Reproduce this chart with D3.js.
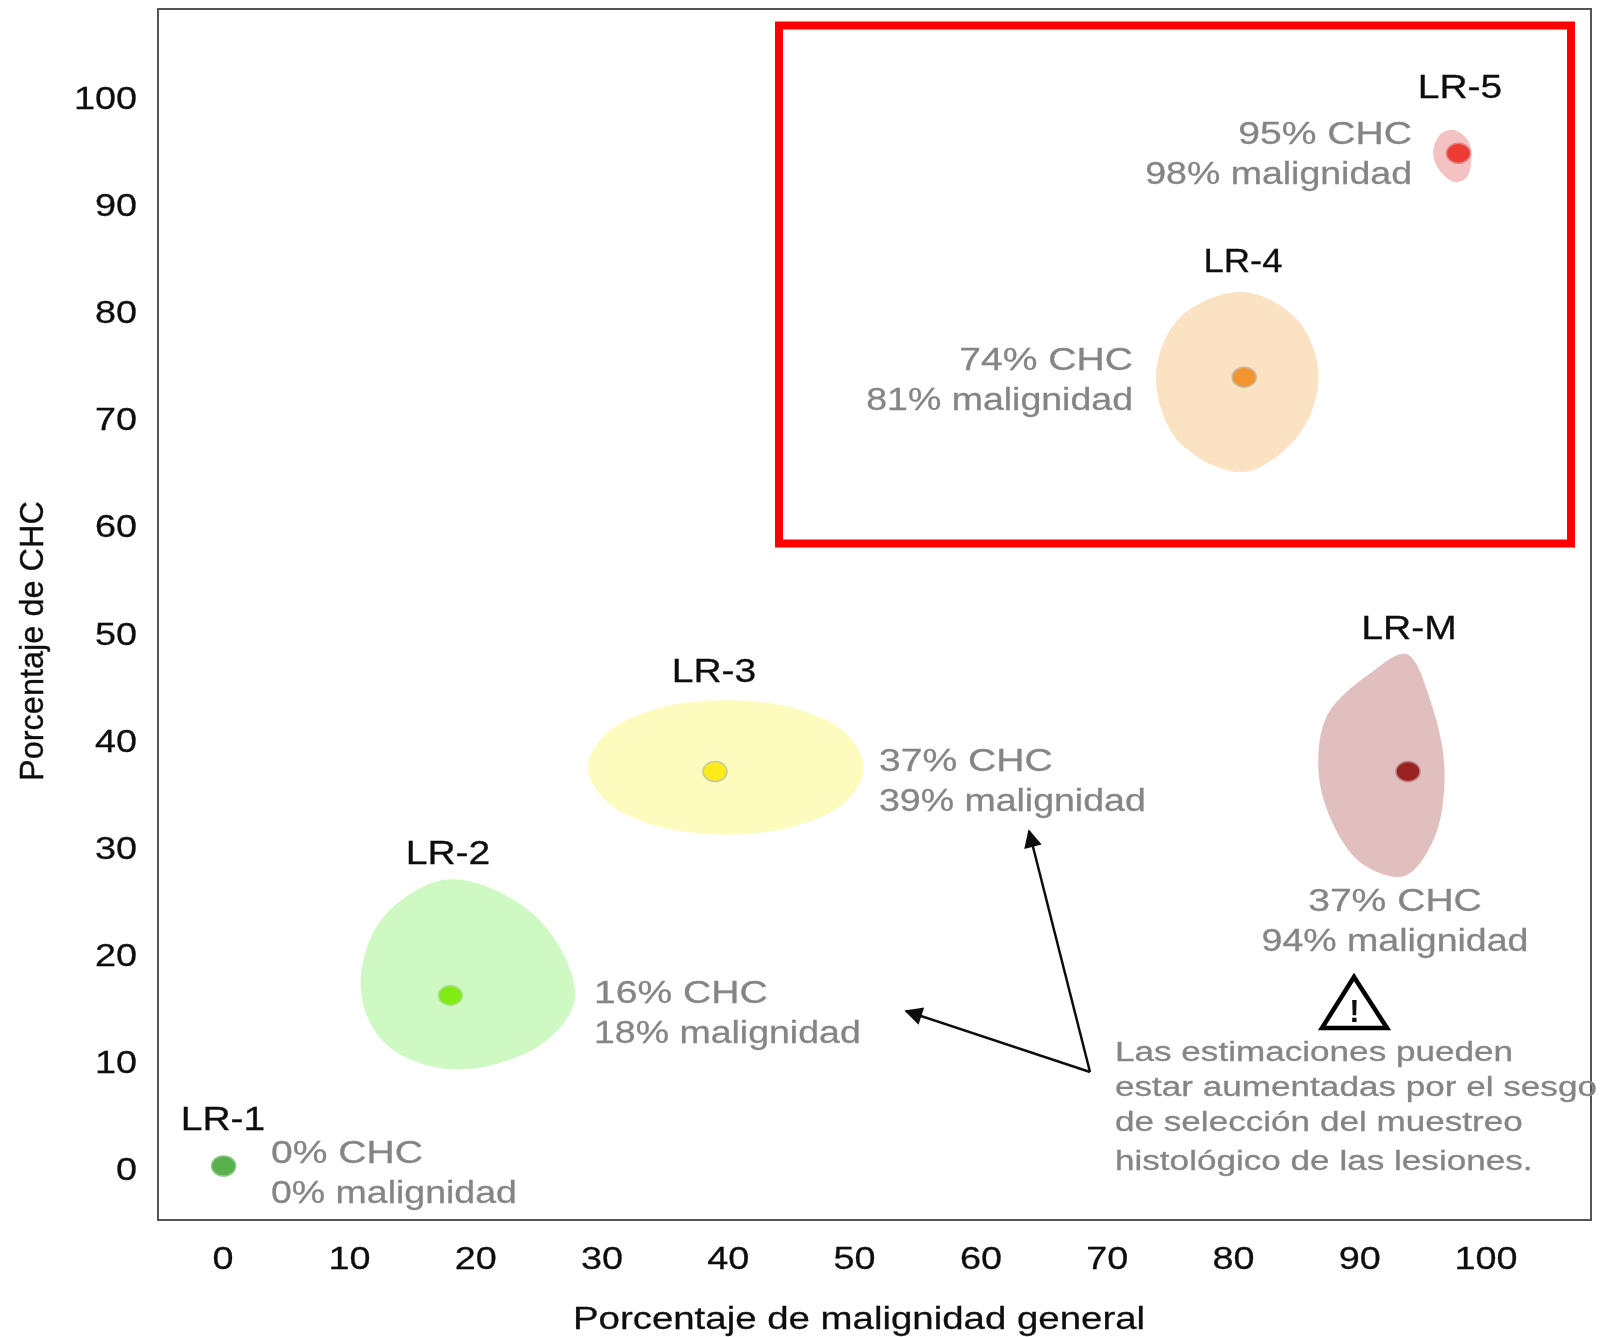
<!DOCTYPE html>
<html>
<head>
<meta charset="utf-8">
<script src="https://cdnjs.cloudflare.com/ajax/libs/d3/7.8.5/d3.min.js"></script>
<style>
  html, body {margin: 0; background: #fff;}
  text {font-family: "Liberation Sans", Arial, sans-serif;}
</style>
</head>
<body>
<div id="chart"></div>
<script>
// values
const lesions = ["LR-1", "LR-2", "LR-3", "LR-4", "LR-5", "LR-M"];
const chc = [0, 16, 37, 74, 95, 37];
const malignancy = [0, 18, 39, 81, 98, 94];
const xTicks = [0, 10, 20, 30, 40, 50, 60, 70, 80, 90, 100];
const yTicks = [0, 10, 20, 30, 40, 50, 60, 70, 80, 90, 100];
const noteLines = [
  "Las estimaciones pueden",
  "estar aumentadas por el sesgo",
  "de selección del muestreo",
  "histológico de las lesiones."
];
// confidence regions, [malignidad, CHC]
const regionLR2 = [[17.9,26.9],[24.8,23.4],[27.9,15.9],[25.2,11.4],[18.3,9.05],[12.9,11.4],[10.9,16.4],[12.5,23.1]];
const regionLR3 = [[39.9,43.7],[45.4,42.9],[49.4,40.6],[50.8,37.4],[49.4,34.2],[45.4,31.9],[39.9,31.1],[34.4,31.9],[30.4,34.2],[28.9,37.4],[30.4,40.6],[34.4,42.9]];
const regionLR4 = [[80.9,82],[85.2,79.4],[86.9,74.2],[85.4,68.7],[80.9,65.1],[75.7,68.1],[74,74.2],[75.9,79.6]];
const regionLR5 = [[97.6,97.2],[98.9,95.9],[98.7,92.8],[97.7,92.3],[96.5,93.4],[96,95],[96.5,96.7]];
const regionLRM = [[93.9,48],[95.9,43.2],[96.9,37],[96.1,30.8],[93.7,27.2],[90.3,28.4],[88,32.2],[86.9,37],[87.6,42.3],[91.2,46.4]];

const W = 1601, H = 1337;
const frame = {left: 158, right: 1591, top: 9, bottom: 1220};

const x = d3.scaleLinear().domain([0, 100]).range([223.6, 1483.6]);
const y = d3.scaleLinear().domain([0, 100]).range([1166, 100]);
// tick labels sit a little off the marks in the original
const xLabel = d3.scaleLinear().domain([0, 100]).range([222.6, 1485.6]);
const yLabel = d3.scaleLinear().domain([0, 100]).range([1169.5, 98.5]);

const svg = d3.select("#chart").append("svg")
  .attr("width", W)
  .attr("height", H)
  .style("display", "block");

// the reference is a slightly soft raster
svg.append("filter").attr("id", "soft")
  .append("feGaussianBlur").attr("stdDeviation", 0.6);

const root = svg.append("g").attr("filter", "url(#soft)");

// text in the picture is wider than the font
function stretch(sel, f) {
  sel.each(function(d, i) {
    const len = this.getComputedTextLength();
    const k = typeof f == "function" ? f(d, i) : f;
    d3.select(this).attr("textLength", len * k).attr("lengthAdjust", "spacingAndGlyphs");
  });
  return sel;
}

// regions
const outline = d3.line()
  .x(function(d) {return x(d[0]);})
  .y(function(d) {return y(d[1]);})
  .curve(d3.curveCatmullRomClosed.alpha(0.5));

const regions = [
  {pts: regionLR2, fill: "#cff9c3"},
  {pts: regionLR3, fill: "#fdfbbe"},
  {pts: regionLR4, fill: "#fae2c3"},
  {pts: regionLR5, fill: "#f4c2c2"},
  {pts: regionLRM, fill: "#e2bfbf"}
];
root.selectAll(".region").data(regions)
  .enter().append("path")
  .attr("class", "region")
  .attr("d", function(d) {return outline(d.pts);})
  .attr("fill", function(d) {return d.fill;});

// frame
root.append("rect")
  .attr("x", frame.left)
  .attr("y", frame.top)
  .attr("width", frame.right - frame.left)
  .attr("height", frame.bottom - frame.top)
  .attr("fill", "none")
  .attr("stroke", "#555")
  .attr("stroke-width", 2);

// red highlight box around LR-4 and LR-5
root.append("rect")
  .attr("x", 779)
  .attr("y", 25.5)
  .attr("width", 792)
  .attr("height", 518)
  .attr("fill", "none")
  .attr("stroke", "#fe0000")
  .attr("stroke-width", 8);

// axes
const xAxis = d3.axisBottom(xLabel).tickValues(xTicks).tickSize(0).tickPadding(27);
const yAxis = d3.axisLeft(yLabel).tickValues(yTicks).tickSize(0).tickPadding(21);

const gx = root.append("g")
  .attr("transform", "translate(0," + frame.bottom + ")")
  .call(xAxis);
const gy = root.append("g")
  .attr("transform", "translate(" + frame.left + ",0)")
  .call(yAxis);
gx.select(".domain").remove();
gy.select(".domain").remove();
root.selectAll(".tick text")
  .attr("font-size", 31.5)
  .attr("font-family", "Liberation Sans")
  .attr("fill", "#111")
  .attr("stroke", "#111")
  .attr("stroke-width", 0.3);
stretch(root.selectAll(".tick text"), 1.2);

stretch(root.append("text")
  .attr("x", 859)
  .attr("y", 1329)
  .attr("text-anchor", "middle")
  .attr("font-size", 32)
  .attr("fill", "#111")
  .attr("stroke", "#111")
  .attr("stroke-width", 0.3)
  .text("Porcentaje de malignidad  general"), 1.2);

stretch(root.append("text")
  .attr("transform", "translate(43,641) rotate(-90)")
  .attr("text-anchor", "middle")
  .attr("font-size", 33.5)
  .attr("fill", "#111")
  .attr("stroke", "#111")
  .attr("stroke-width", 0.3)
  .text("Porcentaje de CHC"), 0.97);

// point estimates
const dotFill = ["#58b14e", "#7fec12", "#fdea1c", "#f2952f", "#ec3a32", "#9a2320"];
const dotEdge = ["#8cc886", "#b4dca0", "#c9c9a0", "#c9b9a0", "#dc8a8a", "#b88080"];
root.selectAll(".dot").data(lesions)
  .enter().append("ellipse")
  .attr("class", "dot")
  .attr("cx", function(d, i) {return x(malignancy[i]);})
  .attr("cy", function(d, i) {return y(chc[i]);})
  .attr("rx", 12)
  .attr("ry", 10)
  .attr("fill", function(d, i) {return dotFill[i];})
  .attr("stroke", function(d, i) {return dotEdge[i];})
  .attr("stroke-width", 1.5);

// lesion names and the two gray lines beside each one
const nameX = [223, 448, 714, 1243, 1460, 1409];
const nameY = [1130, 864, 682, 272, 98, 639];
const nameStretch = [1.2, 1.2, 1.2, 1.12, 1.2, 1.2];
const infoX = [271, 594, 879, 1133, 1412, 1395];
const infoY = [1163, 1003, 771, 370, 144, 911];
const infoAnchor = ["start", "start", "start", "end", "end", "middle"];

root.selectAll(".name").data(lesions)
  .enter().append("text")
  .attr("class", "name")
  .attr("x", function(d, i) {return nameX[i];})
  .attr("y", function(d, i) {return nameY[i];})
  .attr("text-anchor", "middle")
  .attr("font-size", 32.5)
  .attr("fill", "#111")
  .attr("stroke", "#111")
  .attr("stroke-width", 0.3)
  .text(function(d) {return d;})
  .call(stretch, function(d, i) {return nameStretch[i];});

lesions.forEach(function(d, i) {
  [chc[i] + "% CHC", malignancy[i] + "% malignidad"].forEach(function(t, j) {
    stretch(root.append("text")
      .attr("x", infoX[i])
      .attr("y", infoY[i] + j * 40)
      .attr("text-anchor", infoAnchor[i])
      .attr("font-size", 31.5)
      .attr("fill", "#858585")
      .attr("stroke", "#858585")
      .attr("stroke-width", 0.3)
      .text(t), j == 0 ? 1.24 : 1.19);
  });
});

// arrows from the note
const head = svg.select("filter").select(function() {return this.parentNode;})
  .append("marker")
  .attr("id", "arrow")
  .attr("viewBox", "0 0 10 10")
  .attr("refX", 9)
  .attr("refY", 5)
  .attr("markerUnits", "userSpaceOnUse")
  .attr("markerWidth", 22)
  .attr("markerHeight", 18)
  .attr("orient", "auto");
head.append("path").attr("d", "M0,0L10,5L0,10z").attr("fill", "#111");

const arrowEnds = [[906, 1011], [1029, 831]];
root.selectAll(".arrow").data(arrowEnds)
  .enter().append("line")
  .attr("class", "arrow")
  .attr("x1", 1090)
  .attr("y1", 1072)
  .attr("x2", function(d) {return d[0];})
  .attr("y2", function(d) {return d[1];})
  .attr("stroke", "#111")
  .attr("stroke-width", 2.5)
  .attr("marker-end", "url(#arrow)");

// warning sign
root.append("path")
  .attr("d", "M1354,977L1322,1028L1387,1028Z")
  .attr("fill", "none")
  .attr("stroke", "#000")
  .attr("stroke-width", 4.5)
  .attr("stroke-linejoin", "miter");
root.append("text")
  .attr("x", 1354.5)
  .attr("y", 1022)
  .attr("text-anchor", "middle")
  .attr("font-size", 31)
  .attr("font-weight", "bold")
  .attr("fill", "#111")
  .text("!");

// note
const noteY = [1061, 1096, 1131, 1170];
root.selectAll(".note").data(noteLines)
  .enter().append("text")
  .attr("class", "note")
  .attr("x", 1115)
  .attr("y", function(d, i) {return noteY[i];})
  .attr("font-size", 27)
  .attr("fill", "#858585")
  .attr("stroke", "#858585")
  .attr("stroke-width", 0.3)
  .text(function(d) {return d;})
  .call(stretch, 1.3);
</script>
</body>
</html>
